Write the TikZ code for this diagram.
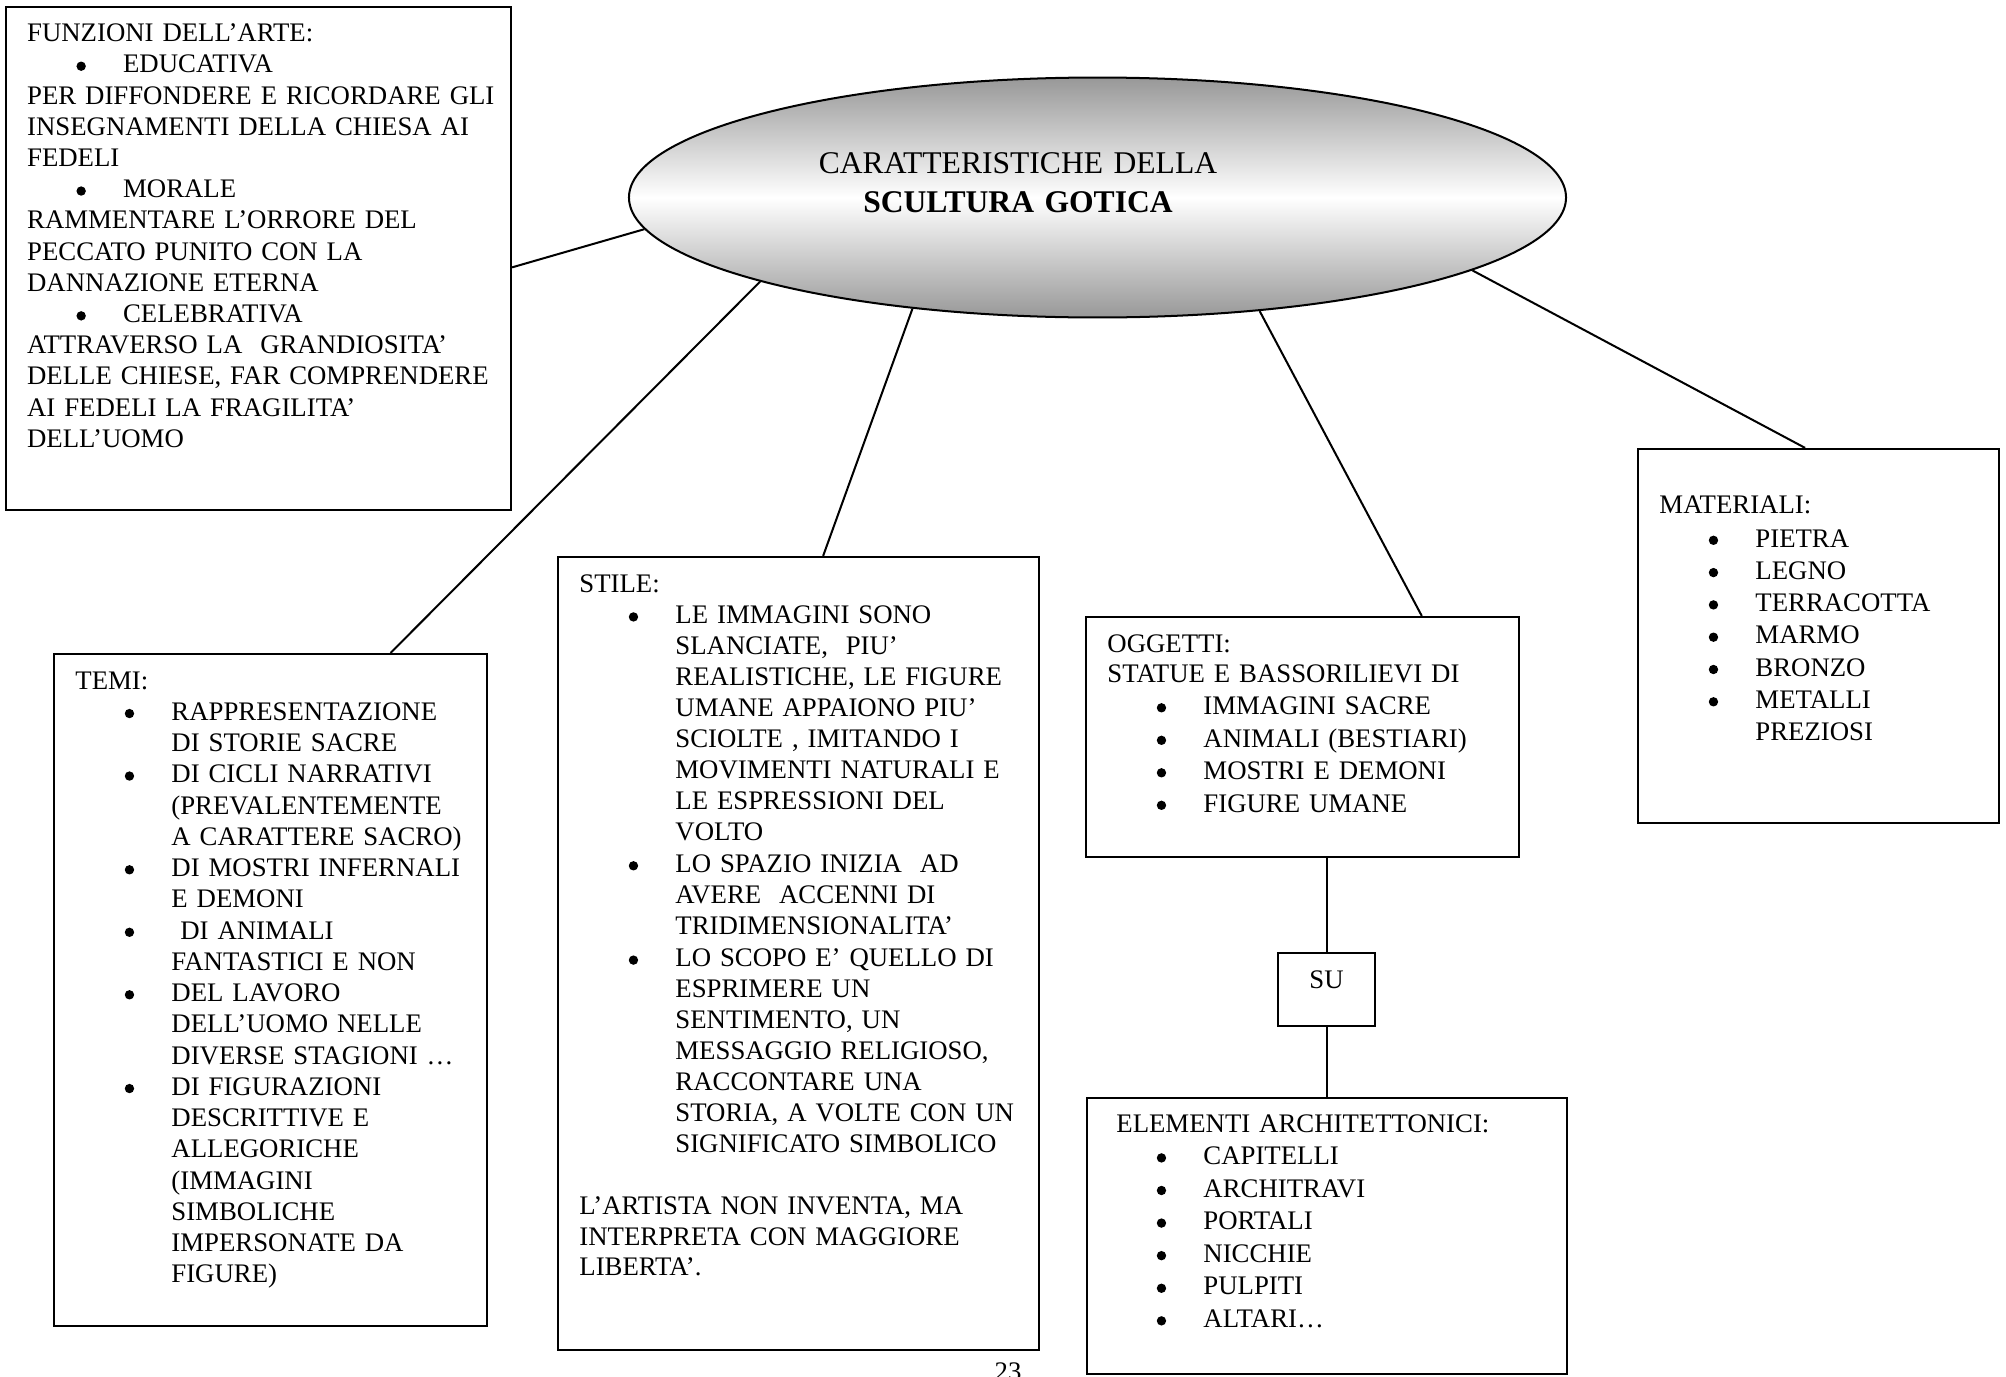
\documentclass[tikz,border=0pt]{standalone}
\usepackage{fontspec}
\setmainfont{Liberation Serif}
\usetikzlibrary{shapes.geometric,fit,calc}
\definecolor{ellgray}{RGB}{152,152,152}
\newsavebox{\dotbox}
% bullet of a list item, and the indent of its continuation lines
\newcommand{\itm}{\makebox[43pt][l]{\hspace{22.1pt}\raisebox{0.9pt}{\usebox{\dotbox}}}}
\newcommand{\cnt}{\hspace*{43pt}}
\begin{document}
\sbox{\dotbox}{\begin{pgfpicture}\pgfpathcircle{\pgfpoint{2.1pt}{2.1pt}}{2.1pt}\pgfusepath{fill}\end{pgfpicture}}%
\begin{tikzpicture}[x=0.448pt,y=-0.448pt]
\tikzset{
  frame/.style={draw, line width=1pt, inner sep=0pt},
  link/.style={line width=0.9pt},
  txt/.style={anchor=base west, inner sep=0pt, text width=330pt, align=left},
  f12/.style={font=\fontsize{12}{#1}\selectfont},
}
\fill[white] (0,0) rectangle (2006,1377);
\useasboundingbox (0,0) rectangle (2006,1377);

% boxes
\node[frame, fit={(6,7) (511,510)}] (funz) {};
\node[frame, fit={(54,654) (487,1326)}] (temi) {};
\node[frame, fit={(558,557) (1039,1350)}] (stile) {};
\node[frame, fit={(1086,617) (1519,857)}] (ogg) {};
\node[frame, fit={(1278,953) (1375,1026)}] (su) {};
\node[frame, fit={(1087,1098) (1567,1374)}] (elem) {};
\node[frame, fit={(1638,449) (1999,823)}] (mat) {};

% central ellipse
\node[ellipse, draw, line width=0.9pt, top color=ellgray, bottom color=ellgray,
      middle color=white, minimum width=419.8pt, minimum height=107.5pt,
      inner sep=0pt] (ell) at (1097.5,197.5) {};
\node[anchor=base, inner sep=0pt, text width=250pt, align=center,
      font=\fontsize{14.15}{17.5}\selectfont] (title) at (1018,173)
  {CARATTERISTICHE DELLA\\\textbf{SCULTURA GOTICA}};

% connectors
\draw[link] (ell.184.6) -- (funz.-2.9);
\draw[link] (ell.194.8) -- ($(temi.north west)!0.776!(temi.north east)$);
\draw[link] (ell.211.2) -- ($(stile.north west)!0.551!(stile.north east)$);
\draw[link] (ell.325.8) -- ($(ogg.north west)!0.774!(ogg.north east)$);
\draw[link] (ell.349.2) -- ($(mat.north west)!0.463!(mat.north east)$);
\draw[link] (su.north) -- (su.north |- ogg.south);
\draw[link] (su.south) -- (su.south |- elem.north);

% texts
\node[txt, f12=13.98] (funzt) at (26.7,41.7) {FUNZIONI DELL'ARTE:\\
\itm EDUCATIVA\\
PER DIFFONDERE E RICORDARE GLI\\
INSEGNAMENTI DELLA CHIESA AI\\
FEDELI\\
\itm MORALE\\
RAMMENTARE L'ORRORE DEL\\
PECCATO PUNITO CON LA\\
DANNAZIONE ETERNA\\
\itm CELEBRATIVA\\
ATTRAVERSO LA\ \ GRANDIOSITA'\\
DELLE CHIESE, FAR COMPRENDERE\\
AI FEDELI LA FRAGILITA'\\
DELL'UOMO};

\node[txt, f12=14.0] (temit) at (75,689) {TEMI:\\
\itm RAPPRESENTAZIONE\\
\cnt DI STORIE SACRE\\
\itm DI CICLI NARRATIVI\\
\cnt (PREVALENTEMENTE\\
\cnt A CARATTERE SACRO)\\
\itm DI MOSTRI INFERNALI\\
\cnt E DEMONI\\
\itm\ DI ANIMALI\\
\cnt FANTASTICI E NON\\
\itm DEL LAVORO\\
\cnt DELL'UOMO NELLE\\
\cnt DIVERSE STAGIONI …\\
\itm DI FIGURAZIONI\\
\cnt DESCRITTIVE E\\
\cnt ALLEGORICHE\\
\cnt (IMMAGINI\\
\cnt SIMBOLICHE\\
\cnt IMPERSONATE DA\\
\cnt FIGURE)};

\node[txt, f12=13.85] (stilet) at (579,592.7) {STILE:\\
\itm LE IMMAGINI SONO\\
\cnt SLANCIATE,\ \ PIU'\\
\cnt REALISTICHE, LE FIGURE\\
\cnt UMANE APPAIONO PIU'\\
\cnt SCIOLTE , IMITANDO I\\
\cnt MOVIMENTI NATURALI E\\
\cnt LE ESPRESSIONI DEL\\
\cnt VOLTO\\[0.7pt]
\itm LO SPAZIO INIZIA\ \ AD\\
\cnt AVERE\ \ ACCENNI DI\\
\cnt TRIDIMENSIONALITA'\\[0.7pt]
\itm LO SCOPO E' QUELLO DI\\
\cnt ESPRIMERE UN\\
\cnt SENTIMENTO, UN\\
\cnt MESSAGGIO RELIGIOSO,\\
\cnt RACCONTARE UNA\\
\cnt STORIA, A VOLTE CON UN\\
\cnt SIGNIFICATO SIMBOLICO\\[13.85pt]
L'ARTISTA NON INVENTA, MA\\
INTERPRETA CON MAGGIORE\\
LIBERTA'.};

\node[txt, f12=14.56] (oggt) at (1107,652) {OGGETTI:\\[-1.12pt]
STATUE E BASSORILIEVI DI\\
\itm IMMAGINI SACRE\\
\itm ANIMALI (BESTIARI)\\
\itm MOSTRI E DEMONI\\
\itm FIGURE UMANE};

\node[anchor=base, inner sep=0pt, f12=14] (sut) at (1326.5,988) {SU};

\node[txt, f12=14.6] (elemt) at (1107,1132) {\ ELEMENTI ARCHITETTONICI:\\
\itm CAPITELLI\\
\itm ARCHITRAVI\\
\itm PORTALI\\
\itm NICCHIE\\
\itm PULPITI\\
\itm ALTARI…};

\node[txt, f12=14.47] (matt) at (1659,513) {MATERIALI:\\[0.76pt]
\itm PIETRA\\
\itm LEGNO\\
\itm TERRACOTTA\\
\itm MARMO\\
\itm BRONZO\\
\itm METALLI\\
\cnt PREZIOSI};

% page number, cut by the lower edge
\node[anchor=base, inner sep=0pt, f12=14] (pg) at (1008,1380) {23};
\end{tikzpicture}
\end{document}
